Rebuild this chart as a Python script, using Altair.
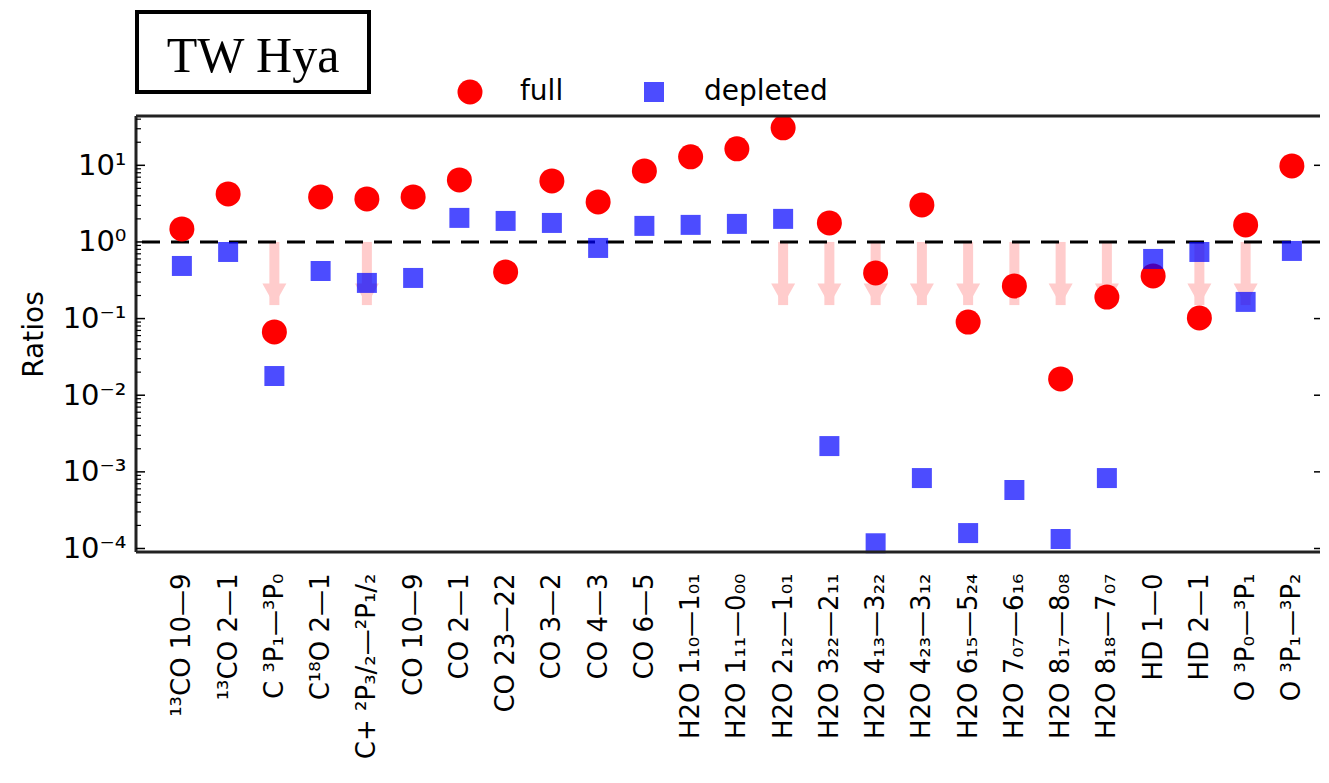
import json
import altair as alt
import pandas as pd

# ---------------- data ----------------
categories = ["¹³CO 10—9", "¹³CO 2—1", "C ³P₁—³P₀", "C¹⁸O 2—1", "C+ ²P₃/₂—²P₁/₂",
              "CO 10—9", "CO 2—1", "CO 23—22", "CO 3—2", "CO 4—3", "CO 6—5",
              "H2O 1₁₀—1₀₁", "H2O 1₁₁—0₀₀", "H2O 2₁₂—1₀₁", "H2O 3₂₂—2₁₁", "H2O 4₁₃—3₂₂",
              "H2O 4₂₃—3₁₂", "H2O 6₁₅—5₂₄", "H2O 7₀₇—6₁₆", "H2O 8₁₇—8₀₈", "H2O 8₁₈—7₀₇",
              "HD 1—0", "HD 2—1", "O ³P₀—³P₁", "O ³P₁—³P₂"]

full = [1.48, 4.23, 0.067, 3.87, 3.64, 3.87, 6.45, 0.406, 6.26, 3.33, 8.45,
        12.9, 16.4, 30.8, 1.77, 0.394, 3.04, 0.090, 0.267, 0.0163, 0.191,
        0.360, 0.102, 1.67, 9.82]

depleted = [0.486, 0.740, 0.0178, 0.418, 0.292, 0.339, 2.06, 1.88, 1.77, 0.835, 1.62,
            1.67, 1.72, 2.0, 0.00217, 1.17e-4, 8.3e-4, 1.59e-4, 5.8e-4, 1.33e-4, 8.3e-4,
            0.60, 0.740, 0.165, 0.763]

upper_limit = [False, False, True, False, True, False, False, False, False, False, False,
               False, False, True, True, True, True, True, True, True, True,
               False, True, True, False]

series_names = ["full", "depleted"]
reference_ratio = 1.0
limit_tip = 0.15
y_tick_values = [1e-4, 1e-3, 1e-2, 1e-1, 1e0, 1e1]
y_tick_labels = ["10⁻⁴", "10⁻³", "10⁻²", "10⁻¹", "10⁰", "10¹"]
panel_title = "TW Hya"

# ---------------- tables ----------------
points = pd.concat([
    pd.DataFrame({"line": categories, "ratio": full, "series": "full"}),
    pd.DataFrame({"line": categories, "ratio": depleted, "series": "depleted"}),
], ignore_index=True)

limits = pd.DataFrame({
    "line": [c for c, u in zip(categories, upper_limit) if u],
})
limits["top"] = reference_ratio
limits["tip"] = limit_tip

ref_df = pd.DataFrame({"ratio": [reference_ratio]})
minor_vals = [m * 10.0 ** d for d in range(-4, 2) for m in range(2, 10) if m * 10.0 ** d < 44]
major_df = pd.DataFrame({"ratio": y_tick_values})
minor_df = pd.DataFrame({"ratio": minor_vals})
one = pd.DataFrame({"k": [0]})

W, H = 1184, 436
FONT = "DejaVu Sans"

y_scale = alt.Scale(type="log", domain=[9e-5, 44], nice=False)
y_axis = alt.Axis(values=y_tick_values,
                  labelExpr=json.dumps(y_tick_labels, ensure_ascii=False) + "[round(log(datum.value)/LN10)+4]",
                  ticks=False, domain=False, grid=False, labelFont=FONT, labelFontSize=29,
                  labelColor="black", labelPadding=10,
                  titleFont=FONT, titleFontSize=28, titleFontWeight="normal", titleColor="black",
                  titleAngle=270, titleX=-94, titleY=218, titleAlign="center",
                  titleBaseline="alphabetic")
x_scale = alt.Scale(type="point", domain=categories, padding=0.8, align=0.62)
x_axis = alt.Axis(labelAngle=270, labelAlign="right", labelBaseline="middle",
                  labelFont=FONT, labelFontSize=26, labelColor="black",
                  ticks=False, domain=False, grid=False, labelPadding=21,
                  labelLimit=500, labelOverlap=False, title=None)


def X(field="line"):
    return alt.X(f"{field}:N", scale=x_scale, axis=x_axis, sort=categories)


def Y(field):
    return alt.Y(f"{field}:Q", scale=y_scale, axis=y_axis, title="Ratios")


# arrows for upper limits
shafts = alt.Chart(limits).mark_rule(strokeWidth=10, color="#ffcccc").encode(
    x=X(), y=Y("top"), y2="tip:Q")
heads = alt.Chart(limits).mark_point(
    shape="M -1 -1.8 L 1 -1.8 L 0 0 Z", filled=True, size=576,
    color="#ffcccc", opacity=1, strokeWidth=0).encode(x=X(), y=Y("tip"))

dashed = alt.Chart(ref_df).mark_rule(strokeDash=[18, 11], strokeWidth=3, color="black").encode(
    y=Y("ratio"))

leg = alt.Legend(title=None)
markers = alt.Chart(points).mark_point(filled=True, strokeWidth=0).encode(
    x=X(), y=Y("ratio"),
    color=alt.Color("series:N", scale=alt.Scale(domain=series_names, range=["#ff0000", "#0000ff"]), legend=leg),
    shape=alt.Shape("series:N", scale=alt.Scale(domain=series_names, range=["circle", "square"]), legend=leg),
    size=alt.Size("series:N", scale=alt.Scale(domain=series_names, range=[625, 400]), legend=leg),
    opacity=alt.Opacity("series:N", scale=alt.Scale(domain=series_names, range=[1.0, 0.7]), legend=leg),
)

# frame (top, left, bottom)
frame_col = "#222222"
top_line = alt.Chart(one).mark_rule(strokeWidth=3, color=frame_col).encode(
    x=alt.value(0), x2=alt.value(W), y=alt.value(0))
bottom_line = alt.Chart(one).mark_rule(strokeWidth=3, color=frame_col).encode(
    x=alt.value(0), x2=alt.value(W), y=alt.value(H))
left_line = alt.Chart(one).mark_rule(strokeWidth=3, color=frame_col).encode(
    x=alt.value(0), y=alt.value(0), y2=alt.value(H))

# inward ticks
left_major = alt.Chart(major_df).mark_rule(strokeWidth=1.5, color="black").encode(
    y=Y("ratio"), x=alt.value(0), x2=alt.value(9))
left_minor = alt.Chart(minor_df).mark_rule(strokeWidth=1.2, color="black").encode(
    y=Y("ratio"), x=alt.value(0), x2=alt.value(5))
right_major = alt.Chart(major_df).mark_rule(strokeWidth=1.5, color="black").encode(
    y=Y("ratio"), x=alt.value(W - 6), x2=alt.value(W))

# boxed panel title
box = alt.Chart(one).mark_rect(fill="white", stroke="black", strokeWidth=4).encode(
    x=alt.value(1), x2=alt.value(233), y=alt.value(-104), y2=alt.value(-24))
box_text = alt.Chart(one).mark_text(font="Liberation Serif", fontSize=50, align="center",
                                    baseline="alphabetic", color="black").encode(
    x=alt.value(117), y=alt.value(-44), text=alt.value(panel_title))

chart = alt.layer(
    shafts, heads, dashed, markers, top_line, bottom_line, left_line,
    left_major, left_minor, right_major, box, box_text
).properties(
    width=W, height=H,
    padding={"left": 128, "top": 108, "right": 0, "bottom": 216},
    autosize=alt.AutoSizeParams(type="none"),
).configure_view(stroke=None).configure_legend(
    orient="none", legendX=320, legendY=-38, direction="horizontal",
    columnPadding=76, labelOffset=36, labelFont=FONT, labelFontSize=28,
    labelColor="black", padding=0, symbolStrokeWidth=0, labelLimit=300,
)

chart.save("out.html", embed_options={"renderer": "svg", "actions": False})
